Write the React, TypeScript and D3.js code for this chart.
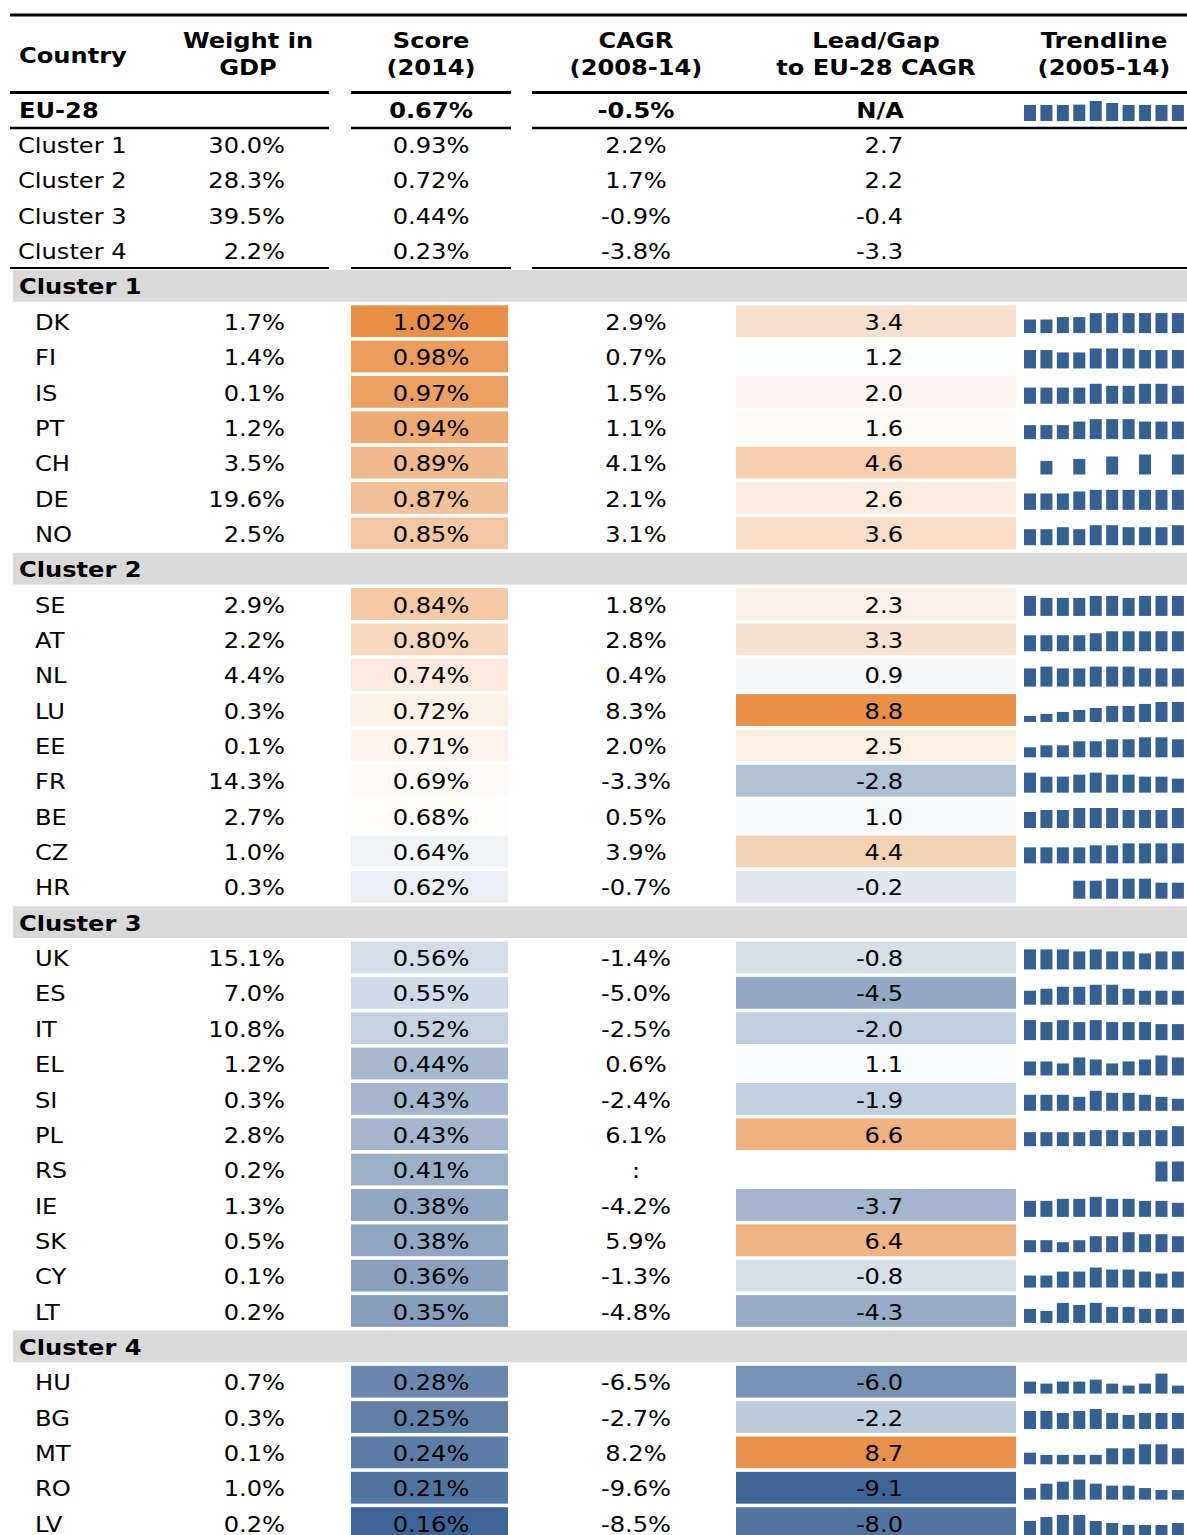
import React from 'react';
import * as d3 from 'd3';

// ---------- DATA ----------
const summaryLabels = ['EU-28', 'Cluster 1', 'Cluster 2', 'Cluster 3', 'Cluster 4'];
const summaryWeight: (number | null)[] = [null, 30.0, 28.3, 39.5, 2.2];
const summaryScore = [0.67, 0.93, 0.72, 0.44, 0.23];
const summaryCagr = [-0.5, 2.2, 1.7, -0.9, -3.8];
const summaryLead: (number | null)[] = [null, 2.7, 2.2, -0.4, -3.3];
const euTrend = [80, 80, 80, 82, 100, 90, 80, 80, 80, 80];

const clusterNames = ['Cluster 1', 'Cluster 2', 'Cluster 3', 'Cluster 4'];

const countryCodes = [
  'DK', 'FI', 'IS', 'PT', 'CH', 'DE', 'NO',
  'SE', 'AT', 'NL', 'LU', 'EE', 'FR', 'BE', 'CZ', 'HR',
  'UK', 'ES', 'IT', 'EL', 'SI', 'PL', 'RS', 'IE', 'SK', 'CY', 'LT',
  'HU', 'BG', 'MT', 'RO', 'LV',
];
const countryCluster = [
  1, 1, 1, 1, 1, 1, 1,
  2, 2, 2, 2, 2, 2, 2, 2, 2,
  3, 3, 3, 3, 3, 3, 3, 3, 3, 3, 3,
  4, 4, 4, 4, 4,
];
const countryWeight = [
  1.7, 1.4, 0.1, 1.2, 3.5, 19.6, 2.5,
  2.9, 2.2, 4.4, 0.3, 0.1, 14.3, 2.7, 1.0, 0.3,
  15.1, 7.0, 10.8, 1.2, 0.3, 2.8, 0.2, 1.3, 0.5, 0.1, 0.2,
  0.7, 0.3, 0.1, 1.0, 0.2,
];
const countryScore = [
  1.02, 0.98, 0.97, 0.94, 0.89, 0.87, 0.85,
  0.84, 0.80, 0.74, 0.72, 0.71, 0.69, 0.68, 0.64, 0.62,
  0.56, 0.55, 0.52, 0.44, 0.43, 0.43, 0.41, 0.38, 0.38, 0.36, 0.35,
  0.28, 0.25, 0.24, 0.21, 0.16,
];
const countryCagr: (number | null)[] = [
  2.9, 0.7, 1.5, 1.1, 4.1, 2.1, 3.1,
  1.8, 2.8, 0.4, 8.3, 2.0, -3.3, 0.5, 3.9, -0.7,
  -1.4, -5.0, -2.5, 0.6, -2.4, 6.1, null, -4.2, 5.9, -1.3, -4.8,
  -6.5, -2.7, 8.2, -9.6, -8.5,
];
const countryLead: (number | null)[] = [
  3.4, 1.2, 2.0, 1.6, 4.6, 2.6, 3.6,
  2.3, 3.3, 0.9, 8.8, 2.5, -2.8, 1.0, 4.4, -0.2,
  -0.8, -4.5, -2.0, 1.1, -1.9, 6.6, null, -3.7, 6.4, -0.8, -4.3,
  -6.0, -2.2, 8.7, -9.1, -8.0,
];
const N = null;
const countryTrend: (number | null)[][] = [
  [68, 68, 80, 80, 100, 100, 100, 100, 100, 100],
  [92, 92, 80, 80, 100, 100, 100, 92, 92, 92],
  [81, 81, 81, 81, 100, 90, 90, 100, 100, 90],
  [70, 70, 70, 88, 100, 100, 100, 88, 88, 88],
  [N, 68, N, 78, N, 90, N, 100, N, 100],
  [82, 82, 82, 92, 100, 100, 100, 100, 100, 100],
  [80, 80, 90, 80, 100, 100, 90, 90, 90, 100],
  [100, 90, 90, 90, 100, 100, 90, 100, 100, 100],
  [80, 80, 80, 80, 90, 100, 100, 100, 100, 100],
  [91, 100, 91, 91, 100, 100, 100, 91, 91, 91],
  [30, 40, 50, 60, 70, 80, 80, 90, 100, 100],
  [50, 60, 60, 80, 80, 90, 90, 100, 100, 90],
  [100, 80, 80, 90, 100, 90, 90, 80, 80, 70],
  [80, 90, 90, 100, 100, 100, 90, 90, 90, 100],
  [80, 80, 80, 80, 90, 90, 100, 100, 100, 100],
  [N, N, N, 90, 90, 100, 100, 100, 80, 80],
  [100, 100, 100, 90, 100, 90, 90, 80, 90, 90],
  [70, 80, 90, 90, 100, 100, 80, 70, 70, 70],
  [100, 90, 100, 90, 100, 90, 90, 90, 80, 80],
  [70, 70, 60, 90, 80, 60, 70, 80, 100, 90],
  [80, 80, 80, 70, 100, 90, 90, 80, 70, 60],
  [70, 70, 70, 70, 80, 80, 70, 80, 80, 100],
  [N, N, N, N, N, N, N, N, 100, 100],
  [80, 80, 90, 90, 100, 90, 90, 80, 80, 70],
  [60, 60, 50, 60, 80, 80, 100, 90, 90, 80],
  [60, 60, 80, 80, 100, 90, 90, 80, 70, 80],
  [70, 60, 100, 90, 100, 80, 80, 70, 70, 70],
  [60, 50, 60, 60, 70, 50, 40, 50, 100, 40],
  [90, 90, 80, 90, 100, 80, 70, 80, 80, 80],
  [58, 47, 47, 47, 47, 80, 80, 100, 100, 80],
  [58, 80, 90, 100, 80, 70, 70, 58, 48, 48],
  [70, 90, 100, 100, 70, 60, 50, 50, 50, 60],
];

const headerLine1 = ['Weight in', 'Score', 'CAGR', 'Lead/Gap', 'Trendline'];
const headerLine2 = ['GDP', '(2014)', '(2008-14)', 'to EU-28 CAGR', '(2005-14)'];

// ---------- STYLE ----------
const W = 1187;
const H = 1535;
const FONT = "'DejaVu Sans', Verdana, sans-serif";
const FS = 21;
const SX = 1.15;
const BLUE = '#3e6596';
const ORANGE = '#e8904a';
const BAR = '#365f92';

const scoreColor = d3
  .scaleLinear<string>()
  .domain([0.16, 0.675, 1.02])
  .range([BLUE, '#ffffff', ORANGE])
  .interpolate(d3.interpolateRgb);
const leadColor = d3
  .scaleLinear<string>()
  .domain([-9.1, 1.35, 8.8])
  .range([BLUE, '#ffffff', ORANGE])
  .interpolate(d3.interpolateRgb);

const fmtPct1 = (v: number) => v.toFixed(1) + '%';
const fmtPct2 = (v: number) => v.toFixed(2) + '%';
const fmt1 = (v: number) => v.toFixed(1);

type Row = {
  kind: 'eu' | 'summary' | 'cluster' | 'country';
  label: string;
  weight?: number | null;
  score?: number;
  cagr?: number | null;
  lead?: number | null;
  trend?: (number | null)[];
};

const rows: Row[] = [];
summaryLabels.forEach((l, i) =>
  rows.push({
    kind: i === 0 ? 'eu' : 'summary',
    label: l,
    weight: summaryWeight[i],
    score: summaryScore[i],
    cagr: summaryCagr[i],
    lead: summaryLead[i],
    trend: i === 0 ? euTrend : undefined,
  })
);
clusterNames.forEach((cn, k) => {
  rows.push({ kind: 'cluster', label: cn });
  countryCodes.forEach((code, j) => {
    if (countryCluster[j] === k + 1)
      rows.push({
        kind: 'country',
        label: code,
        weight: countryWeight[j],
        score: countryScore[j],
        cagr: countryCagr[j],
        lead: countryLead[j],
        trend: countryTrend[j],
      });
  });
});

const yRow = d3.scaleLinear().domain([0, rows.length - 1]).range([110, 1524]);
const xBar = d3
  .scaleBand<number>()
  .domain(d3.range(10))
  .range([1020.7, 1187.2])
  .paddingInner(0.27)
  .paddingOuter(0.2);

const COL = {
  label: 19,
  country: 35,
  weightEnd: 285,
  score: 431,
  cagr: 636,
  leadEnd: 903,
  trend: 1104,
  weightC: 248,
  leadC: 876,
};

function T({
  x,
  y,
  anchor = 'start',
  bold = false,
  children,
}: {
  x: number;
  y: number;
  anchor?: string;
  bold?: boolean;
  children: React.ReactNode;
}) {
  return (
    <text
      transform={`translate(${x},${y}) scale(${SX},1)`}
      textAnchor={anchor}
      fontWeight={bold ? 'bold' : 'normal'}
      fontSize={FS}
      fontFamily={FONT}
      fill="#000"
    >
      {children}
    </text>
  );
}

const segments: [number, number][] = [
  [10, 329],
  [351, 511],
  [532, 1187],
];

function Rule({ y, w }: { y: number; w: number }) {
  return (
    <g>
      {segments.map(([a, b], i) => (
        <line key={i} x1={a} x2={b} y1={y} y2={y} stroke="#000" strokeWidth={w} />
      ))}
    </g>
  );
}

export default function App() {
  const BL = 7.7; // baseline offset from row centre
  const headerX = [COL.weightC, COL.score, COL.cagr, COL.leadC, COL.trend];
  return (
    <svg
      width={W}
      height={H}
      style={{ position: 'absolute', left: 0, top: 0, background: '#fff' }}
    >
      <rect x={0} y={0} width={W} height={H} fill="#fff" />
      {/* header */}
      <line x1={10} x2={W} y1={15} y2={15} stroke="#000" strokeWidth={3} />
      <T x={COL.label} y={55 + BL} bold>
        Country
      </T>
      {headerLine1.map((t, i) => (
        <T key={'h1' + i} x={headerX[i]} y={40 + BL} anchor="middle" bold>
          {t}
        </T>
      ))}
      {headerLine2.map((t, i) => (
        <T key={'h2' + i} x={headerX[i]} y={67 + BL} anchor="middle" bold>
          {t}
        </T>
      ))}
      <Rule y={92.5} w={3} />
      <Rule y={128} w={2.5} />
      <Rule y={268} w={2} />

      {rows.map((r, i) => {
        const c = yRow(i);
        const top = c - 16.8;
        const h = 31.8;
        if (r.kind === 'cluster') {
          return (
            <g key={i}>
              <rect x={13} y={top} width={W - 13} height={h} fill="#d9d9d9" />
              <T x={COL.label} y={c + BL} bold>
                {r.label}
              </T>
            </g>
          );
        }
        const bold = r.kind === 'eu';
        const colored = r.kind === 'country';
        const trend = r.trend;
        const maxV = trend ? d3.max(trend.filter((v) => v != null) as number[]) || 1 : 1;
        const hBar = d3.scaleLinear().domain([0, maxV]).range([0, 20]);
        const bottom = c + 11;
        return (
          <g key={i}>
            {colored && r.score != null && (
              <rect x={351} y={top} width={157} height={h} fill={scoreColor(r.score)} />
            )}
            {colored && r.lead != null && (
              <rect x={736} y={top} width={280} height={h} fill={leadColor(r.lead)} />
            )}
            <T x={r.kind === 'country' ? COL.country : r.kind === 'eu' ? COL.label : 18} y={c + BL} bold={bold}>
              {r.label}
            </T>
            {r.weight != null && (
              <T x={COL.weightEnd} y={c + BL} anchor="end">
                {fmtPct1(r.weight)}
              </T>
            )}
            {r.score != null && (
              <T x={COL.score} y={c + BL} anchor="middle" bold={bold}>
                {fmtPct2(r.score)}
              </T>
            )}
            <T x={COL.cagr} y={c + BL} anchor="middle" bold={bold}>
              {r.cagr != null ? fmtPct1(r.cagr) : ':'}
            </T>
            {r.kind === 'eu' ? (
              <T x={COL.leadEnd + 1} y={c + BL} anchor="end" bold>
                N/A
              </T>
            ) : (
              r.lead != null && (
                <T x={COL.leadEnd} y={c + BL} anchor="end">
                  {fmt1(r.lead)}
                </T>
              )
            )}
            {trend &&
              trend.map((v, k) =>
                v == null ? null : (
                  <rect
                    key={k}
                    x={xBar(k)}
                    width={xBar.bandwidth()}
                    y={bottom - hBar(v)}
                    height={hBar(v)}
                    fill={BAR}
                  />
                )
              )}
          </g>
        );
      })}
    </svg>
  );
}
